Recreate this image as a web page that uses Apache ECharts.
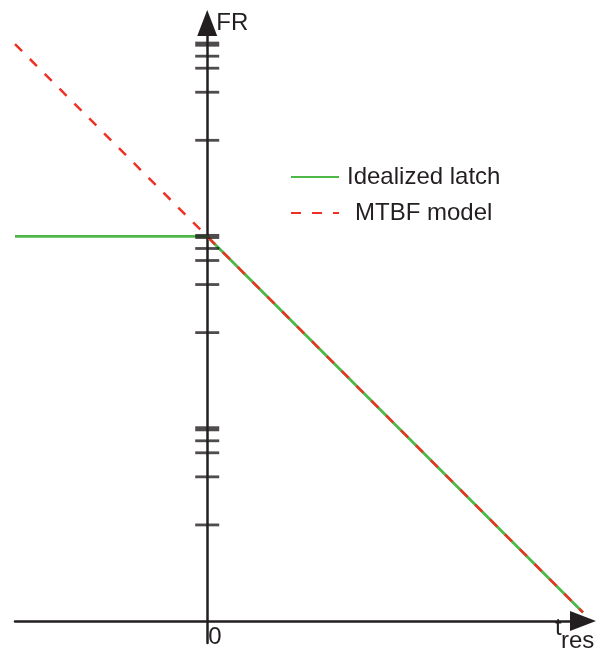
<!DOCTYPE html>
<html>
<head>
<meta charset="utf-8">
<script src="https://cdn.jsdelivr.net/npm/echarts@6/dist/echarts.min.js"></script>
<style>html,body{margin:0;padding:0;background:#fff}#c{width:596px;height:660px}</style>
</head>
<body>
<div id="c"></div>
<script>
// t_res (in decades of scale) and log10(FR) (decades)
const idealX = [-1, 0, 1.955];
const idealY = [2, 2, 0.045];
const mtbfX = [-1, 1.955];
const mtbfY = [3, 0.045];
const majorTicks = [1, 2, 3];
const minorTicks = [0.5, 0.75, 0.875, 0.9375, 1.5, 1.75, 1.875, 1.9375, 2.5, 2.75, 2.875, 2.9375];
const seriesNames = ['Idealized latch', 'MTBF model'];
const xLabels = [0];

const ink = '#231f20';
const green = '#4db748';
const red = '#ee3124';
const font = 'Liberation Sans, Arial, sans-serif';

const chart = echarts.init(document.getElementById('c'), null, {renderer: 'canvas'});
chart.setOption({
  animation: false,
  backgroundColor: '#fff',
  grid: {left: 15, right: 13, top: 23, bottom: 17, containLabel: false, outerBoundsMode: 'none'},
  xAxis: {
    type: 'value', min: -1, max: 1.955,
    axisLine: {show: true, onZero: true, lineStyle: {color: ink, width: 2.5},
      symbol: ['none', 'triangle'], symbolSize: [20, 26]},
    axisTick: {show: false},
    splitLine: {show: false},
    axisLabel: {show: true, customValues: xLabels, formatter: v => String(v),
      align: 'left', margin: -18, padding: [0, 0, 0, 1],
      fontSize: 24, fontFamily: font, color: ink}
  },
  yAxis: {
    type: 'value', min: -0.114, max: 3.110,
    name: 'FR', nameLocation: 'end', nameGap: 0,
    nameTextStyle: {align: 'left', verticalAlign: 'middle', padding: [0, 0, 0, 9],
      fontSize: 24, fontFamily: font, color: ink},
    axisLine: {show: true, onZero: true, lineStyle: {color: ink, width: 2.5},
      symbol: ['none', 'triangle'], symbolSize: [20, 26]},
    axisTick: {show: false},
    axisLabel: {show: false},
    splitLine: {show: false}
  },
  legend: [
    {data: [seriesNames[0]], left: 290, top: 165, padding: 0, itemWidth: 48, itemHeight: 24,
      itemStyle: {opacity: 0},
      textStyle: {fontSize: 24, fontFamily: font, color: ink, padding: [0, 0, 0, 3]}},
    {data: [seriesNames[1]], left: 290, top: 201, padding: 0, itemWidth: 48, itemHeight: 24,
      itemStyle: {opacity: 0},
      textStyle: {fontSize: 24, fontFamily: font, color: ink, padding: [0, 0, 0, 11]}}
  ],
  series: [
    {name: seriesNames[0], type: 'line', symbol: 'none', z: 2,
      data: idealX.map((x, i) => [x, idealY[i]]),
      lineStyle: {color: green, width: 2.8}, itemStyle: {color: green}},
    {name: seriesNames[1], type: 'line', symbol: 'none', z: 3,
      data: mtbfX.map((x, i) => [x, mtbfY[i]]),
      lineStyle: {color: red, width: 2.5, type: [10, 11]}, itemStyle: {color: red}},
    {name: 'minor', type: 'scatter', symbol: 'rect', symbolSize: [24, 2.8], z: 4, silent: true,
      data: minorTicks.map(v => [0, v]), itemStyle: {color: ink}},
    {name: 'major', type: 'scatter', symbol: 'rect', symbolSize: [24, 5], z: 4, silent: true,
      data: majorTicks.map(v => [0, v]), itemStyle: {color: ink}}
  ],
  graphic: [
    {type: 'text', x: 555, y: 628.5, style: {text: 't', font: '24px ' + font, fill: ink, verticalAlign: 'middle', align: 'left'}},
    {type: 'text', x: 561, y: 641.5, style: {text: 'res', font: '24px ' + font, fill: ink, verticalAlign: 'middle', align: 'left'}}
  ]
});
</script>
</body>
</html>
